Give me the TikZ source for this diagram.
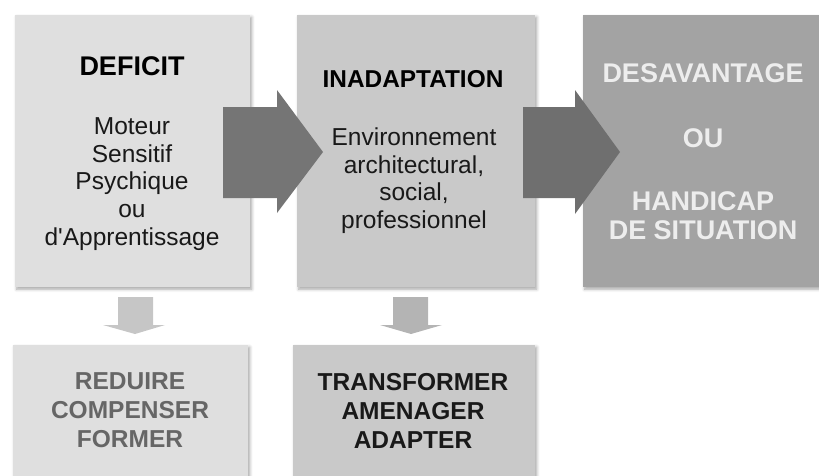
\documentclass[tikz,border=0pt]{standalone}
\usepackage{fontspec}
\setmainfont{Liberation Sans}
\usetikzlibrary{shadows.blur}

\definecolor{grisclair}{HTML}{DFDFDF}
\definecolor{grismoyen}{HTML}{C9C9C9}
\definecolor{grisfonce}{HTML}{A3A3A3}
\definecolor{grisfleche}{HTML}{757575}
\definecolor{grisbas}{HTML}{C6C6C6}
\definecolor{grisbasb}{HTML}{B4B4B4}
\definecolor{textegris}{HTML}{666666}

\tikzset{
  boite/.style={rectangle, inner sep=0pt, anchor=north west,
    blur shadow={shadow xshift=1.5pt, shadow yshift=-2pt,
      shadow blur radius=3pt, shadow opacity=35}},
  titre/.style={font=\bfseries\fontsize{27}{29}\selectfont, inner sep=0pt, align=center},
  texte/.style={font=\fontsize{24.5}{27.7}\selectfont, inner sep=0pt, align=center, text=black!90},
  action/.style={font=\bfseries\fontsize{24.5}{29}\selectfont, inner sep=0pt, align=center},
}

\begin{document}
\begin{tikzpicture}[x=1pt, y=-1pt]
    \useasboundingbox (0,0) rectangle (819,475);
    \clip (0,0) rectangle (819,475);

    % les trois cases du haut
    \node[boite, fill=grisclair, minimum width=235pt, minimum height=272pt] (deficit) at (15,15) {};
    \node[boite, fill=grismoyen, minimum width=238pt, minimum height=272pt] (inadaptation) at (297,15) {};
    \node[boite, fill=grisfonce, minimum width=238pt, minimum height=272pt] (desavantage) at (583,15) {};

    % les deux cases du bas
    \node[boite, fill=grisclair, minimum width=235pt, minimum height=160pt] (reduire) at (13,345) {};
    \node[boite, fill=grismoyen, minimum width=242pt, minimum height=160pt] (transformer) at (293,345) {};

    % grosses fleches vers la droite
    \fill[grisfleche] (223,107) -- (277,107) -- (277,90) -- (323,152) -- (277,213) -- (277,198) -- (223,198) -- cycle;
    \fill[grisfleche!95!black] (523,107) -- (575,107) -- (575,90) -- (620,152) -- (575,214) -- (575,198) -- (523,198) -- cycle;

    % fleches vers le bas
    \fill[grisbas] (118,297) -- (153,297) -- (153,325) -- (165,325) -- (135,334) -- (103,325) -- (118,325) -- cycle;
    \fill[grisbasb] (393,297) -- (428,297) -- (428,325) -- (442,325) -- (411,334) -- (380,325) -- (393,325) -- cycle;

    % textes
    \node[titre, anchor=base] (deficit-titre) at (132,75) {DEFICIT};
    \node[texte, anchor=north] (deficit-texte) at (132,117.5)
        {Moteur\\Sensitif\\Psychique\\ou\\d\textquotesingle Apprentissage};

    \node[titre, anchor=base, font=\bfseries\fontsize{24.4}{29}\selectfont] (inadaptation-titre) at (413,87) {INADAPTATION};
    \node[texte, anchor=north] (inadaptation-texte) at (414,127.5)
        {Environnement\\architectural,\\social,\\professionnel};

    \node[titre, anchor=north, text=white!93!black] (desavantage-texte) at (703,63)
        {DESAVANTAGE\\[36pt]OU\\[34pt]HANDICAP\\DE SITUATION};

    \node[action, anchor=north, text=textegris] (reduire-texte) at (130,372.5)
        {REDUIRE\\COMPENSER\\FORMER};
    \node[action, anchor=north, text=black!90] (transformer-texte) at (413,373.5)
        {TRANSFORMER\\AMENAGER\\ADAPTER};
\end{tikzpicture}
\end{document}
